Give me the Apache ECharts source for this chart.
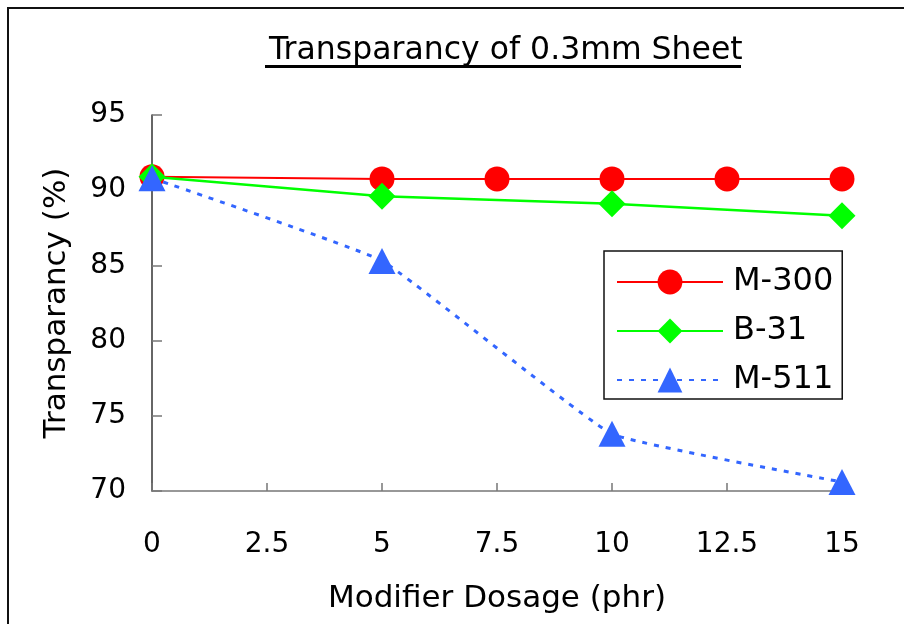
<!DOCTYPE html>
<html>
<head>
<meta charset="utf-8">
<script src="https://cdn.jsdelivr.net/npm/echarts@6/dist/echarts.min.js"></script>
<style>
html,body{margin:0;padding:0;background:#fff;}
#chart{width:904px;height:624px;}
</style>
</head>
<body>
<div id="chart"></div>
<script>
const titleText = 'Transparancy of 0.3mm Sheet';
const xName = 'Modifier Dosage (phr)';
const yName = 'Transparancy (%)';
const seriesNames = ['M-300', 'B-31', 'M-511'];
const m300 = [[0, 90.9], [5, 90.75], [7.5, 90.75], [10, 90.75], [12.5, 90.75], [15, 90.75]];
const b31 = [[0, 90.9], [5, 89.6], [10, 89.1], [15, 88.3]];
const m511 = [[0, 90.8], [5, 85.3], [10, 73.8], [15, 70.6]];
const xMin = 0, xMax = 15, xStep = 2.5;
const yMin = 70, yMax = 95, yStep = 5;

const FONT = '"DejaVu Sans", sans-serif';
const chart = echarts.init(document.getElementById('chart'), null, {renderer: 'canvas'});
chart.setOption({
  backgroundColor: '#fff',
  animation: false,
  title: {
    text: titleText,
    left: 264,
    top: 30,
    textStyle: {fontFamily: FONT, fontSize: 31.5, fontWeight: 'normal', color: '#000'}
  },
  graphic: [
    {type: 'rect', shape: {x: 8, y: 8, width: 1000, height: 1000}, style: {fill: 'none', stroke: '#111', lineWidth: 2}, silent: true},
    {type: 'rect', shape: {x: 265, y: 65, width: 476, height: 3}, style: {fill: '#000'}, silent: true}
  ],
  legend: {
    orient: 'vertical',
    left: 604,
    top: 251,
    padding: [15, 9, 3, 12],
    borderColor: '#111',
    borderWidth: 1.5,
    itemWidth: 106,
    itemHeight: 31,
    itemGap: 17,
    textStyle: {fontFamily: FONT, fontSize: 32, color: '#000', padding: [0, 0, 0, 5]},
    data: seriesNames
  },
  grid: {left: 152, top: 115, right: 62, bottom: 133, containLabel: false},
  xAxis: {
    type: 'value', min: xMin, max: xMax, interval: xStep,
    name: xName, nameLocation: 'middle', nameGap: 92,
    nameTextStyle: {fontFamily: FONT, fontSize: 31, color: '#000'},
    axisLine: {lineStyle: {color: '#777', width: 1.5}},
    axisTick: {inside: true, length: 8, lineStyle: {color: '#777', width: 1.5}},
    axisLabel: {margin: 40, fontFamily: FONT, fontSize: 28, color: '#000'},
    splitLine: {show: false}
  },
  yAxis: {
    type: 'value', min: yMin, max: yMax, interval: yStep,
    name: yName, nameLocation: 'middle', nameGap: 80,
    nameTextStyle: {fontFamily: FONT, fontSize: 31, color: '#000'},
    axisLine: {show: true, lineStyle: {color: '#333', width: 1.5}},
    axisTick: {show: true, inside: true, length: 10, lineStyle: {color: '#777', width: 1.5}},
    axisLabel: {margin: 26, fontFamily: FONT, fontSize: 28, color: '#000', padding: [10, 0, 0, 0]},
    splitLine: {show: false}
  },
  series: [
    {name: seriesNames[0], type: 'line', data: m300, symbol: 'circle', symbolSize: 25,
     itemStyle: {color: '#ff0000'}, lineStyle: {color: '#ff0000', width: 2}, z: 2},
    {name: seriesNames[1], type: 'line', data: b31, symbol: 'diamond', symbolSize: 27,
     itemStyle: {color: '#00ff00'}, lineStyle: {color: '#00ff00', width: 2.5}, z: 3},
    {name: seriesNames[2], type: 'line', data: m511, symbol: 'triangle', symbolSize: [27, 26], smooth: 0.1,
     itemStyle: {color: '#3366ff'}, lineStyle: {color: '#3366ff', width: 3, type: [5, 7]}, z: 4}
  ]
});
</script>
</body>
</html>
